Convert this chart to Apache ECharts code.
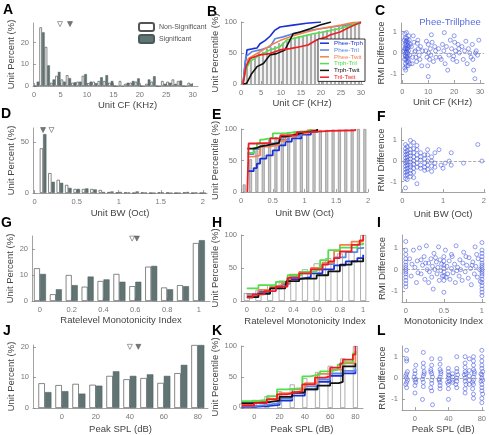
<!DOCTYPE html>
<html><head><meta charset="utf-8">
<script src="https://cdn.jsdelivr.net/npm/echarts@6/dist/echarts.min.js"></script>
<style>html,body{margin:0;padding:0;background:#fff}#c{width:489px;height:435px}</style>
</head><body><div id="c"></div>
<script>
// ---------- DATA ----------
const lineNames = ['Phee-Trph','Phee-Tril','Phee-Twit','Trph-Tril','Trph-Twit','Tril-Twit'];
const lineColors = ['#1b2fd6','#5b86e6','#f5804f','#4fe04a','#111111','#ee1c24'];

// Panel A: CF histogram (bin centers, KHz)
const aBins = [0.5,1.5,2.5,3.5,4.5,5.5,6.5,7.5,8.5,9.5,10.5,11.5,12.5,13.5,14.5,15.5,16.5,17.5,18.5,19.5,20.5,21.5,22.5,23.5,24.5,25.5,26.5,27.5,28.5,29.5];
const aNonSig = [0,27,18,1.5,4.7,3,5,1.5,2,4.7,1.3,2,2.3,2.3,1.5,0,2.3,1,1.5,2,0,1,2,0,2.3,2,3,2.3,0,1.5];
const aSig    = [2,24.7,9.5,3,6.5,2,3.6,1.7,2,5.5,2,1.3,4,5,2.3,0,0,1.5,2.3,3.5,0,3,4.5,0,1,1.5,1,2.5,0,1];
const aMedNonSig = [4.9, 28.5];
const aMedSig = [6.8, 28.5];

// Panel B: cumulative CF
const bCum = [2,28,42,44,50,52,57,59,61,66,67,69,72,75,77,77,79,80,82,85,85,87,90,90,92,94,96,97,98,100];
const bCurves = [
  [[0.5,0],[1,30],[1.5,55],[2,56],[3,57],[4,58],[4.75,65],[6,70],[7.25,77],[8.5,87],[9.75,92],[13,95],[16.4,98],[20,100]],
  [[0.5,0],[0.8,20],[1.2,44],[2.7,52],[4.75,55],[7.25,60],[8.5,73],[10.5,76],[13,81],[16.4,86],[19.7,89],[25,94],[30,98]],
  [[0.5,0],[1,17],[1.8,41],[4.75,52],[7.25,62],[9.75,70],[13,78],[16.4,84],[19.7,89],[25,95],[28,99],[30,100]],
  [[0.5,0],[1,20],[2.2,36],[4.75,47],[7.25,55],[9.75,60],[11.4,71],[14.75,76],[18,81],[20.6,84],[25,90],[30,100]],
  [[0.5,0],[1.4,1],[2.7,17],[4,28],[5.6,33],[7.25,47],[8.9,49],[11,55],[12.25,71],[13,81],[14.75,84],[17.25,89],[19.75,95],[21.4,98],[22.5,100]],
  [[0.5,0],[1.25,28],[2.25,41],[4.75,47],[7.25,49],[9.75,55],[12.25,57],[14.75,60],[16.75,63],[18.9,71],[21.4,76],[22.25,79],[24.75,84],[27.25,92],[29.75,99],[30,100]]
];

// Panel C: RMI difference vs CF
const cPoints = [[0.8,0.6],[1,0.4],[1.2,0.2],[1.1,-0.1],[0.9,-0.3],[1.3,0.5],[1.5,0.1],[1.6,-0.2],[1.4,0.3],[1.7,0.7],[1.8,-0.4],[2,0.2],[2.1,0],[1.9,-0.1],[2.2,0.5],[2.3,-0.3],[2.4,0.1],[2.5,0.8],[1.5,-0.6],[1.2,-0.5],[1,0.9],[0.7,0.1],[1.3,0],[1.6,0.4],[1.8,0.2],[2,-0.2],[2.2,-0.6],[2.6,0.3],[2.8,-0.1],[3,0.4],[0.9,0.2],[1.1,0.7],[1.4,-0.3],[1.7,0.05],[2.4,-0.4],[1.9,0.6],[1.2,-0.15],[1.5,0.55],[2.7,0.6],[2.9,-0.5],[1,-0.7],[1.3,-0.8],[2.1,0.35],[1.6,0.95],
[3.5,0.3],[4,-0.2],[4.5,0.5],[5,0.1],[5.5,-0.4],[4.2,0.8],[6,0.6],[6.5,-0.1],[7,0.3],[7.5,-0.6],[5.2,-0.2],[6.2,0.2],[3.8,-0.5],[4.8,0.05],[7.8,0.1],[6.8,-0.3],[5.8,0.45],
[9,0.1],[9.5,-0.2],[10,0.4],[10.2,0],[10.5,-0.3],[10.8,0.2],[11,-0.1],[11.5,0.5],[12,-0.4],[12.5,0.3],[9.8,-0.6],[11.2,0.85],[10,-1.1],[12.8,0.1],[9.3,0.55],[13,-0.2],
[14,0.2],[15,-0.3],[15.5,0.4],[16,0.1],[16.5,-0.5],[17,0.3],[18,-0.1],[18.5,0.6],[19,0.2],[19.5,-0.3],[20,0.8],[20.5,0.1],[21,-0.4],[21.5,0.4],[22,0],[17.5,-0.8],[16.2,0.95],[20.2,0.5],[19.8,-0.15],[21.8,0.2],[14.5,-0.2],
[23,0.3],[23.5,-0.3],[24,0.1],[25,-0.5],[25.5,0.2],[26,0],[26.5,-0.2],[27,0.4],[27.5,-0.8],[28,-1.2],[28.5,0.1],[29,-0.1],[29.5,0.6],[27.2,-0.3],[24.5,0.55],[28.2,0]];

// Panel D: BW histogram
const dBins = [0.1,0.2,0.3,0.4,0.5,0.6,0.7,0.8,0.9,1.0,1.1,1.2,1.3,1.4,1.5,1.6,1.7,1.8,1.9,2.0];
const dNonSig = [44,19.6,13,8,4,4,4,3,1,0.5,0.5,0,0.5,0,0.5,0.3,0,0.5,0,0];
const dSig    = [58,11,10,5,4,4.5,3.5,1,1.5,1,0.5,1.5,0.3,0,0.5,0,0,1,0.5,0];
const dMedSig = [0.1, 62];
const dMedNonSig = [0.2, 62];

// Panel E: cumulative BW
const eBins = [0.05,0.15,0.25,0.35,0.45,0.55,0.65,0.75,0.85,0.95,1.05,1.15,1.25,1.35,1.45,1.55,1.65,1.75,1.85,1.95];
const eCum = [12,52,66,77,83,87,91,95,96,97,97.5,98,98.5,98.5,99,99,99,99.5,100,100];
const eCurves = [
  [[0.1,33],[0.2,38],[0.25,45],[0.3,53],[0.4,58],[0.5,66],[0.6,74],[0.7,80],[0.8,85],[0.95,91],[1.1,96]],
  [[0.1,60],[0.2,68],[0.3,73],[0.45,77],[0.6,83],[0.75,89],[0.95,95],[1.2,98]],
  [[0.1,56],[0.2,58],[0.3,72],[0.45,75],[0.6,81],[0.7,88],[0.85,93],[1.05,98],[1.2,100]],
  [[0.1,62],[0.2,70],[0.25,77],[0.3,83],[0.35,86],[0.5,93],[0.7,95],[0.85,97],[1.1,100]],
  [[0.1,69],[0.2,70],[0.25,72],[0.3,74],[0.4,76],[0.5,78],[0.6,80],[0.62,88],[0.7,90],[0.8,92],[0.9,95],[1.0,97],[1.2,100]],
  [[0.1,0],[0.12,77],[0.25,78],[0.46,85],[0.62,90],[0.88,95],[1.09,97],[1.4,98],[1.8,100]]
];

// Panel F: RMI difference vs BW
const fPoints = [[0.08,0.8],[0.08,0.6],[0.08,0.45],[0.08,0.3],[0.08,0.15],[0.08,0],[0.08,-0.1],[0.08,-0.25],[0.08,-0.4],[0.08,-0.55],[0.08,-0.7],[0.08,-0.85],[0.08,-1.3],
[0.12,0.7],[0.12,0.5],[0.12,0.35],[0.12,0.2],[0.12,0.05],[0.12,-0.05],[0.12,-0.2],[0.12,-0.35],[0.12,-0.5],[0.12,-0.65],[0.12,-0.9],
[0.2,1],[0.2,0.75],[0.2,0.55],[0.2,0.4],[0.2,0.25],[0.2,0.1],[0.2,-0.05],[0.2,-0.2],[0.2,-0.3],[0.2,-0.45],[0.2,-0.6],[0.2,-0.75],
[0.28,0.9],[0.28,0.6],[0.28,0.4],[0.28,0.2],[0.28,0],[0.28,-0.15],[0.28,-0.35],[0.28,-0.55],[0.28,-0.8],
[0.36,0.75],[0.36,0.55],[0.36,0.3],[0.36,0.1],[0.36,-0.1],[0.36,-0.3],[0.36,-1.1],
[0.45,0.2],[0.45,0.05],[0.45,-0.2],[0.45,-0.35],[0.45,0.4],
[0.55,0.3],[0.55,0.1],[0.55,-0.1],[0.55,-0.3],[0.55,-0.45],
[0.62,0.55],[0.62,0.3],[0.62,0],[0.62,-0.2],[0.62,-0.4],
[0.72,0.2],[0.72,0],[0.72,-0.25],[0.72,-0.5],
[0.8,0.4],[0.8,-0.1],[0.8,-0.3],
[0.9,0.55],[0.95,-0.2],[1,-0.35],[1.05,-0.1],[1.15,0],[1.2,-0.2],[1.2,0.4],[1.5,-0.1],[1.85,0.8],[1.95,0]];

// Panel G: monotonicity histogram
const gBins = [0,0.1,0.2,0.3,0.4,0.5,0.6,0.7,0.8,0.9,1.0];
const gNonSig = [12.6,2.6,10,5.5,7.7,10.4,5.7,13.2,5.2,6.1,22.3];
const gSig    = [10.4,4.5,6.1,9.4,8.3,7.4,7.4,13.5,4.5,5.7,23.4];
const gMedNonSig = [0.58, 24];
const gMedSig = [0.61, 24];

// Panel H: cumulative monotonicity
const hCum = [12,17,24,31,37,48,57,65,72,75,100];
const hCurves = [
  [[0,10],[0.1,14],[0.2,20],[0.3,26],[0.35,33],[0.45,36],[0.55,42],[0.65,48],[0.75,54],[0.85,60],[0.95,65],[1,70]],
  [[0,8],[0.1,13],[0.2,19],[0.3,26],[0.37,37],[0.45,42],[0.55,48],[0.65,56],[0.75,66],[0.85,74],[0.95,80],[1,82]],
  [[0,10],[0.1,17],[0.2,22],[0.3,28],[0.37,40],[0.45,44],[0.55,50],[0.65,58],[0.75,76],[0.8,85],[0.9,90],[1,94]],
  [[0,19],[0.1,24],[0.25,29],[0.35,39],[0.47,44],[0.6,49],[0.63,62],[0.7,77],[0.8,81],[0.95,86],[1,88]],
  [[0,6],[0.1,11],[0.2,19],[0.33,22],[0.34,30],[0.45,34],[0.6,39],[0.7,45],[0.8,55],[0.9,60],[1,65]],
  [[0,5],[0.05,10],[0.15,15],[0.25,22],[0.35,35],[0.45,42],[0.55,48],[0.65,55],[0.7,60],[0.75,65],[0.8,75],[0.9,85],[0.97,92],[1,100]]
];

// Panel I: RMI difference vs monotonicity
const iPoints = [[0,1.3],[0,0.9],[0,0.7],[0,0.5],[0,0.35],[0,0.2],[0,0.1],[0,0],[0,-0.1],[0,-0.2],[0,-0.35],[0,-0.5],[0,-0.65],[0,-0.8],
[1,1.25],[1,0.9],[1,0.75],[1,0.6],[1,0.45],[1,0.3],[1,0.2],[1,0.1],[1,0],[1,-0.1],[1,-0.2],[1,-0.3],[1,-0.45],[1,-0.6],[1,-0.75],[1,-0.9],[1,-1.05],[1,-1.2],
[0.5,0.6],[0.5,0.4],[0.5,0.2],[0.5,0.05],[0.5,-0.1],[0.5,-0.3],[0.5,-0.5],[0.5,-1.05],
[0.05,0.5],[0.07,-0.3],[0.1,0.9],[0.12,0.1],[0.14,-0.6],[0.15,0.4],[0.18,1],[0.2,-0.2],[0.22,0.2],[0.24,0.6],[0.25,-0.45],[0.27,1.1],[0.28,0],[0.3,0.3],[0.31,-0.1],[0.33,0.5],[0.34,-0.35],[0.35,0.15],[0.36,-0.9],[0.37,0.75],[0.38,0],[0.4,0.35],[0.41,-0.2],[0.42,0.1],[0.43,1.05],[0.44,-0.5],[0.45,0.45],[0.46,-0.05],[0.47,0.25],[0.48,-0.3],[0.52,0.9],[0.54,0.15],[0.55,-0.2],[0.57,0.4],[0.58,-0.45],[0.6,0.05],[0.61,0.6],[0.62,-0.15],[0.64,0.25],[0.65,-0.6],[0.66,1.1],[0.68,0.1],[0.7,-0.3],[0.71,0.45],[0.72,0],[0.74,-0.5],[0.75,0.3],[0.76,0.8],[0.78,-0.1],[0.8,0.2],[0.82,-0.4],[0.83,0.55],[0.85,0.05],[0.86,-0.7],[0.88,0.35],[0.9,-0.2],[0.91,1.05],[0.92,0.15],[0.94,-0.35],[0.95,0.5],[0.97,0],[0.98,-0.55],[0.2,0.45],[0.3,-0.6],[0.6,0.7],[0.08,0.25],[0.16,-0.15],[0.26,0.3],[0.39,0.55],[0.53,-0.35],[0.67,-0.05],[0.79,0.6],[0.87,0.2],[0.93,0.7]];

// Panel J: peak SPL histogram
const jBins = [-10,0,10,20,30,40,50,60,70,80];
const jNonSig = [8.1,7.5,7.9,7.6,10.5,9.4,9.8,8.2,11.4,20.6];
const jSig    = [5.2,5.5,4.7,7.3,12,10.5,11,10.5,14.1,20.6];
const jMedNonSig = [40, 20];
const jMedSig = [45, 20];

// Panel K: cumulative peak SPL
const kCum = [7,13,19,27,38,48,58,68,80,100];
const kCurves = [
  [[-10,2],[0,3],[10,5],[20,12],[30,20],[40,30],[50,42],[60,52],[70,56],[80,62]],
  [[-10,3],[0,5],[10,8],[20,15],[30,24],[40,35],[50,46],[60,56],[70,60],[80,68]],
  [[-10,6],[0,10],[10,15],[20,24],[30,30],[40,40],[50,55],[60,62],[70,72],[80,88]],
  [[-10,11],[0,13],[10,19],[18,30],[26,32],[38,51],[44,54],[52,59],[60,62],[66,70],[70,74],[78,88],[80,92]],
  [[-10,8],[0,9],[10,12],[20,18],[30,25],[40,30],[50,36],[60,40],[67,42],[70,67],[80,72]],
  [[-10,4],[0,8],[10,14],[18,22],[26,24],[30,27],[38,38],[48,49],[56,51],[60,65],[68,72],[70,78],[78,86],[80,100]]
];

// Panel L: RMI difference vs peak SPL
const lPoints = [[-10,1.3],[-10,0.9],[-10,0.8],[-9,0.3],[-10,0.2],[-11,0.1],[-10,0],[-9,-0.1],[-10,-0.2],[-11,-0.3],[-10,-0.45],
[0,0.35],[0,0.2],[-1,0.05],[0,-0.1],[1,-0.2],[0,-0.35],[0,-0.7],[1,0.6],[1,-0.05],
[10,1.2],[10,0.7],[10,0.5],[11,0.3],[10,0.1],[9,-0.05],[10,-0.2],[10,-0.4],[9,-1],[11,0.2],
[20,0.9],[20,0.6],[19,0.4],[20,0.2],[21,0.05],[20,-0.1],[20,-0.25],[19,-0.45],[20,-0.6],[21,-1.25],[19,0.3],
[30,0.9],[30,0.65],[30,0.4],[31,0.2],[30,0.05],[29,-0.1],[30,-0.2],[30,-0.35],[30,-0.5],[31,0.3],[29,-0.05],
[40,0.45],[40,0.3],[40,0.15],[40,0],[41,-0.15],[40,-0.3],[40,-0.5],[40,-1],[41,0.1],[39,-0.2],
[45,0.2],[45,0.05],[45,-0.1],[45,-0.2],
[50,1],[50,0.45],[50,0.3],[51,0.15],[50,0],[50,-0.15],[49,-0.3],[50,-0.45],
[60,1],[60,0.7],[60,0.5],[60,0.3],[59,0.15],[60,0],[60,-0.15],[61,-0.3],[60,-0.5],[60,-0.7],[61,0.2],
[65,0.9],[65,0.35],[65,0.1],[65,-0.1],[65,-0.3],
[70,1],[70,0.8],[70,0.6],[70,0.4],[71,0.2],[70,0.05],[70,-0.1],[70,-0.3],[69,-0.5],[70,-0.75],[70,-0.95],[69,-0.2],[71,0.3],
[80,1.3],[80,1],[80,0.8],[80,0.6],[80,0.45],[81,0.3],[80,0.15],[80,0],[79,-0.15],[80,-0.3],[80,-0.45],[80,-0.6],[81,-0.75],[80,-0.95],[80,-1.15],[79,0.2],[81,-0.1]];

// ---------- CHART ----------
const FONT = 'Liberation Sans, Arial, sans-serif';
const GRAYBAR = '#617474';
const grids = [
  {left:33, top:23, width:165, height:63},
  {left:241, top:22, width:122, height:62},
  {left:401, top:23, width:83, height:60},
  {left:33, top:128, width:174, height:65},
  {left:241, top:129, width:127, height:63},
  {left:401, top:128, width:85, height:64},
  {left:32, top:236, width:178, height:65},
  {left:241, top:235, width:128, height:66},
  {left:402, top:235, width:83, height:67},
  {left:33, top:345, width:175, height:64},
  {left:241, top:346, width:122, height:62},
  {left:402, top:346, width:83, height:66}
];
function ax(gi, min, max, ticks, name, gap, isY, shift) {
  return {gridIndex:gi, type:'value', min:min, max:max, name:name, nameLocation:'middle', nameGap:gap,
    nameTextStyle:{fontSize:9.5, color:'#444', fontFamily:FONT, padding: shift ? [0,0,0,shift] : 0},
    axisLine:{onZero:false, lineStyle:{color:'#8a8a8a', width:0.8}},
    axisTick:{show:true, inside:true, length:3, customValues:ticks, lineStyle:{color:'#8a8a8a', width:0.8}},
    axisLabel:{customValues:ticks, fontSize:7.5, color:'#777', margin:isY?4:5, fontFamily:FONT},
    splitLine:{show:false}};
}
const xAxes = [
  ax(0,-0.2,31,[0,5,10,15,20,25,30],'Unit CF (KHz)',12,false,24),
  ax(1,0,30.5,[0,5,10,15,20,25,30],'Unit CF (KHz)',14),
  ax(2,-0.5,31.5,[0,10,20,30],'Unit CF (KHz)',14),
  ax(3,-0.02,2.05,[0,0.5,1,1.5,2],'Unit BW (Oct)',15),
  ax(4,0,2,[0,0.5,1,1.5,2],'Unit BW (Oct)',16),
  ax(5,-0.03,2.03,[0,1,2],'Unit BW (Oct)',17),
  ax(6,-0.05,1.07,[0,0.2,0.4,0.6,0.8,1],'Ratelevel Monotonicity Index',14),
  ax(7,-0.05,1.05,[0,0.2,0.4,0.6,0.8,1],'Ratelevel Monotonicity Index',15),
  ax(8,-0.05,1.04,[0,0.5,1],'Monotonicity Index',14),
  ax(9,-17,86,[0,20,40,60,80],'Peak SPL (dB)',16),
  ax(10,-10.5,86,[0,20,40,60,80],'Peak SPL (dB)',16),
  ax(11,-15.5,83,[0,40,80],'Peak SPL (dB)',12)
];
const yAxes = [
  ax(0,0,29,[0,10,20],'Unit Percent (%)',17,true),
  ax(1,0,100,[0,50,100],'Unit Percentile (%)',14,true),
  ax(2,-1.4,1.4,[-1,0,1],'RMI Difference',13,true),
  ax(3,0,64,[0,50],'Unit Percent (%)',16,true),
  ax(4,0,100,[0,50,100],'Unit Percentile (%)',16,true),
  ax(5,-1.5,1.6,[-1,0,1],'RMI Difference',10,true),
  ax(6,0,25,[0,10,20],'Unit Percent (%)',14,true),
  ax(7,0,100,[0,50,100],'Unit Percentile (%)',16,true),
  ax(8,-1.5,1.6,[-1,0,1],'RMI Difference',14,true),
  ax(9,0,20.6,[0,10,20],'Unit Percent (%)',15,true),
  ax(10,0,100,[0,50,100],'Unit Percentile (%)',16,true),
  ax(11,-1.5,1.5,[-1,0,1],'RMI Difference',14,true)
];

const zip = (xs, ys) => xs.map((x,i) => [x, ys[i]]);
const series = [];
function histPair(gi, bins, ns, sg, bw) {
  series.push({name:'Non-Significant', type:'bar', xAxisIndex:gi, yAxisIndex:gi, data:zip(bins,ns), barWidth:bw, barGap:'0%',
    itemStyle:{color:'#ffffff', borderColor:'#555', borderWidth:0.7}});
  series.push({name:'Significant', type:'bar', xAxisIndex:gi, yAxisIndex:gi, data:zip(bins,sg), barWidth:bw, barGap:'0%',
    itemStyle:{color:GRAYBAR, borderColor:'#4a5a5a', borderWidth:0.5}});
}
function medians(gi, open, filled) {
  series.push({type:'scatter', xAxisIndex:gi, yAxisIndex:gi, data:[open], symbol:'triangle', symbolRotate:180, symbolSize:5,
    itemStyle:{color:'#fff', borderColor:'#555', borderWidth:0.7}, silent:true});
  series.push({type:'scatter', xAxisIndex:gi, yAxisIndex:gi, data:[filled], symbol:'triangle', symbolRotate:180, symbolSize:5,
    itemStyle:{color:'#555', borderColor:'#555', borderWidth:0.7}, silent:true});
}
function cdf(gi, bins, cum, curves, bw, step, lw, fill) {
  series.push({type:'bar', xAxisIndex:gi, yAxisIndex:gi, data:zip(bins,cum), barWidth:bw,
    itemStyle:{color:fill, borderColor:'#8c8c8c', borderWidth:0.7}, silent:true});
  curves.forEach((c,i) => series.push({name:lineNames[i], type:'line', xAxisIndex:gi, yAxisIndex:gi, data:c,
    step:step, showSymbol:false, symbol:'none', lineStyle:{color:lineColors[i], width:lw}, itemStyle:{color:lineColors[i]}}));
}
function scat(gi, pts) {
  series.push({type:'scatter', xAxisIndex:gi, yAxisIndex:gi, data:pts, symbol:'circle', symbolSize:4,
    itemStyle:{color:'rgba(0,0,0,0)', borderColor:'#3e53dc', borderWidth:0.7},
    markLine:{silent:true, symbol:'none', data:[{yAxis:0}], label:{show:false},
      lineStyle:{type:'dashed', color:'#999', width:0.8}}});
}

histPair(0, aBins, aNonSig, aSig, 2.6); medians(0, aMedNonSig, aMedSig);
cdf(1, aBins, bCum, bCurves, 2, false, 1.6, '#c8c8c8');
scat(2, cPoints);
histPair(3, dBins, dNonSig, dSig, 3.3); medians(3, dMedNonSig, dMedSig);
cdf(4, eBins, eCum, eCurves, 3, 'end', 1.8, '#c8c8c8');
scat(5, fPoints);
histPair(6, gBins, gNonSig, gSig, 6); medians(6, gMedNonSig, gMedSig);
cdf(7, gBins, hCum, hCurves, 6, 'end', 1.8, '#ffffff');
scat(8, iPoints);
histPair(9, jBins, jNonSig, jSig, 6.5); medians(9, jMedNonSig, jMedSig);
cdf(10, jBins, kCum, kCurves, 5, 'end', 1.8, '#ffffff');
scat(11, lPoints);

const letters = [['A',3,3],['B',207,5],['C',375,4],['D',1,107],['E',212,108],['F',377,110],['G',1,216],['H',212,216],['I',377,216],['J',3,324],['K',212,324],['L',377,324]];

const option = {
  animation:false,
  backgroundColor:'#fff',
  textStyle:{fontFamily:FONT},
  grid:grids,
  xAxis:xAxes,
  yAxis:yAxes,
  title:[{text:'Phee-Trillphee', left:445, top:12, textAlign:'center',
    textStyle:{fontSize:9.5, fontWeight:'normal', color:'#5a6ee2', fontFamily:FONT}}],
  legend:[
    {data:['Non-Significant','Significant'], left:138, top:22, orient:'vertical', itemWidth:15, itemHeight:8, itemGap:2,
      padding:0, textStyle:{fontSize:7, color:'#555', fontFamily:FONT}, selectedMode:false},
    {data:lineNames.map((n,i)=>({name:n, textStyle:{color:lineColors[i]}})), left:318, top:39, orient:'vertical',
      icon:'rect', itemWidth:9, itemHeight:1.5, itemGap:0.4, padding:[1,2,1,2], backgroundColor:'#fff',
      borderColor:'#000', borderWidth:0.8, selectedMode:false,
      textStyle:{fontSize:6.2, lineHeight:6.4, fontFamily:FONT}}
  ],
  graphic: letters.map(l => ({type:'text', left:l[1], top:l[2],
    style:{text:l[0], font:'bold 14px Liberation Sans, Arial, sans-serif', fill:'#000'}})),
  series:series
};
const chart = echarts.init(document.getElementById('c'), null, {renderer:'canvas'});
chart.setOption(option);
</script></body></html>
